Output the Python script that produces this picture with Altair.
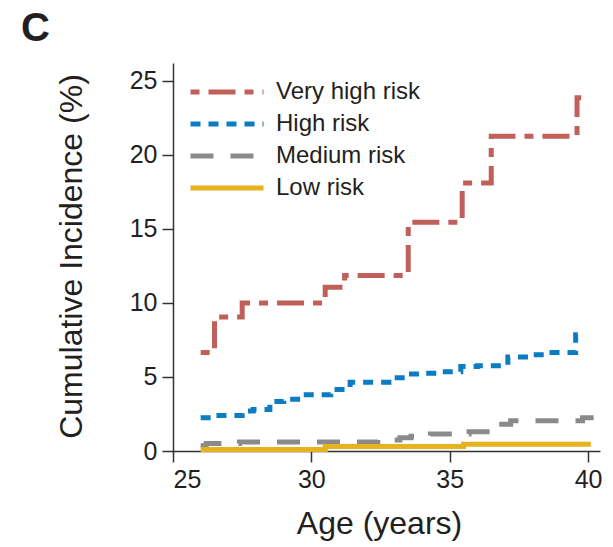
import altair as alt
import pandas as pd

series = ["Very high risk", "High risk", "Medium risk", "Low risk"]
colors = ["#c1605b", "#0a7cc4", "#8a8a8a", "#e6b21e"]
dashes = [[9, 9, 27, 9], [10, 8], [23, 17], [1, 0]]

vh_age = [26.0, 26.5, 27.5, 30.5, 31.2, 33.5, 35.45, 36.5, 39.6, 39.75]
vh_val = [6.65, 9.05, 10.0, 11.05, 11.85, 15.45, 18.1, 21.25, 23.85, 23.85]

hi_age = [26.0, 26.5, 27.5, 27.9, 28.5, 29.0, 29.6, 30.7, 31.4, 32.8, 33.4, 34.1,
          34.7, 35.4, 36.0, 37.1, 37.9, 38.6, 39.55, 39.75]
hi_val = [2.25, 2.4, 2.7, 2.8, 3.35, 3.5, 3.8, 4.15, 4.65, 4.95, 5.2, 5.25,
          5.35, 5.7, 5.75, 6.35, 6.5, 6.65, 7.85, 7.85]

md_age = [26.0, 26.2, 27.4, 32.4, 33.2, 33.6, 34.3, 35.7, 36.5, 37.2, 39.8, 40.2]
md_val = [0.35, 0.5, 0.6, 0.75, 0.9, 1.0, 1.15, 1.3, 1.8, 2.05, 2.25, 2.25]

lo_age = [26.0, 30.5, 35.5, 40.1]
lo_val = [0.1, 0.3, 0.45, 0.45]

rows = []
for name, ages, vals in [(series[0], vh_age, vh_val), (series[1], hi_age, hi_val),
                         (series[2], md_age, md_val), (series[3], lo_age, lo_val)]:
    for a, v in zip(ages, vals):
        rows.append({"risk": name, "age": a, "inc": v})
df = pd.DataFrame(rows)

FONT = "Liberation Sans"
TXT = "#231f20"

def make_legend():
    return alt.Legend(title=None, orient="none", legendX=39, legendY=14,
                      symbolType="M-3,0L3,0", symbolSize=592,
                      symbolStrokeWidth=5, labelOffset=34,
                      rowPadding=5, padding=0,
                      labelFontSize=24, labelFont=FONT, labelColor=TXT)

chart = alt.Chart(df).mark_line(
    interpolate="step-after", strokeWidth=5, strokeCap="butt", clip=False
).encode(
    x=alt.X("age:Q", scale=alt.Scale(domain=[25, 40.43], nice=False, zero=False),
            axis=alt.Axis(values=[25, 30, 35, 40], title="Age (years)",
                          titleX=206)),
    y=alt.Y("inc:Q", scale=alt.Scale(domain=[0, 26.2], nice=False),
            axis=alt.Axis(values=[0, 5, 10, 15, 20, 25], title="Cumulative Incidence (%)",
                          titleY=193)),
    color=alt.Color("risk:N", scale=alt.Scale(domain=series, range=colors),
                    legend=make_legend()),
    strokeDash=alt.StrokeDash("risk:N", scale=alt.Scale(domain=series, range=dashes),
                              legend=make_legend()),
    order=alt.Order("age:Q"),
).properties(
    width=427, height=388,
    autosize=alt.AutoSizeParams(type="none"),
    padding={"left": 173, "top": 63, "right": 13, "bottom": 96},
    title=alt.TitleParams("C", anchor="start", frame="group", dx=-152, dy=-10,
                          fontSize=40, font=FONT, fontWeight="bold", color=TXT),
).configure_view(stroke=None).configure_axis(
    grid=False, domainColor="#333", domainWidth=1.5, tickColor="#333", tickWidth=1.5,
    tickSize=11, labelFont=FONT, labelFontSize=25, labelColor=TXT,
    titleFont=FONT, titleFontSize=32, titleFontWeight="normal", titleColor=TXT,
).configure_axisX(labelPadding=5, titlePadding=16).configure_axisY(
    labelPadding=5, titlePadding=41
)

chart.save("out.html", embed_options={"renderer": "svg", "actions": False})
